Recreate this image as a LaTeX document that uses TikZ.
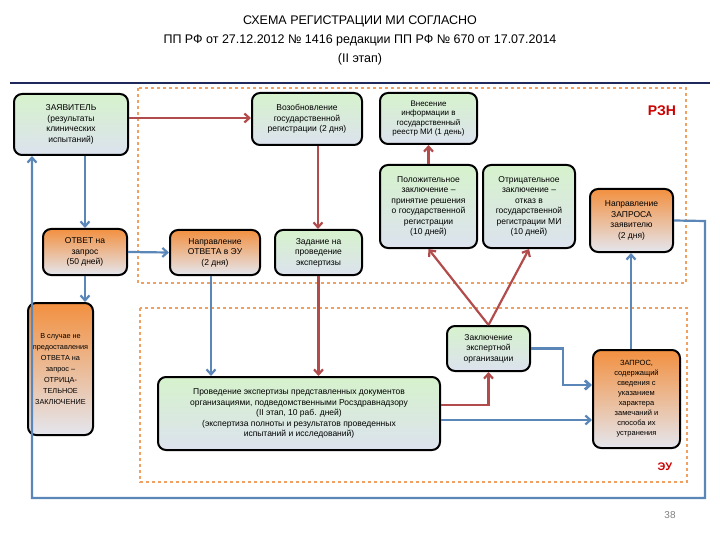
\documentclass[tikz,border=0pt]{standalone}
\usepackage{fontspec}
\setmainfont{Liberation Sans}
\usetikzlibrary{arrows.meta}
\definecolor{rc}{HTML}{B24C4C}
\definecolor{bc}{HTML}{5A86B8}
\definecolor{gtop}{HTML}{D6F2CC}
\definecolor{gbot}{HTML}{DCE2EE}
\definecolor{otop}{HTML}{F29040}
\definecolor{obot}{HTML}{E4E6EE}
\definecolor{dash}{HTML}{F0A060}
\begin{document}
\begin{tikzpicture}[x=1pt,y=-1pt,
 box/.style={draw=black,line width=2pt,rounded corners=8pt,align=center,font=\fontsize{8.5}{10.5}\selectfont,inner sep=1pt},
 gbox/.style={box,top color=gtop,bottom color=gbot},
 obox/.style={box,top color=otop,bottom color=obot},
 red/.style={draw=rc,line width=2.2pt,-{Straight Barb[length=5pt,width=9pt]}},
 blue/.style={draw=bc,line width=2.2pt,-{Straight Barb[length=5pt,width=9pt]}},
 frame/.style={draw=dash,line width=1.6pt,dashed}]
\useasboundingbox (0,0) rectangle (720,540);
\node[font=\fontsize{12.5}{19}\selectfont,align=center] (title) at (360,40) {СХЕМА РЕГИСТРАЦИИ МИ СОГЛАСНО\\ПП РФ от 27.12.2012 № 1416 редакции ПП РФ № 670 от 17.07.2014\\(II этап)};
\draw[draw={rgb,255:red,30;green,40;blue,90},line width=2.5pt] (10,83) -- (710,83);
\draw[frame] (138,88) rectangle (686,283);
\draw[frame] (140,308) rectangle (687,482);
\node[text=red!80!black,font=\bfseries\fontsize{14}{16}\selectfont] (rzn) at (662,111) {РЗН};
\node[text=red!80!black,font=\bfseries\fontsize{11}{12}\selectfont] (eu) at (665,467) {ЭУ};
\node[text=gray,font=\fontsize{10}{11}\selectfont] (pg) at (670,515) {38};
\node[gbox,minimum width=114pt,minimum height=61pt] (zay) at (71,124.5) {ЗАЯВИТЕЛЬ\\(результаты\\клинических\\испытаний)};
\node[gbox,minimum width=110pt,minimum height=52pt] (voz) at (307,119) {Возобновление\\государственной\\регистрации (2 дня)};
\node[gbox,minimum width=97pt,minimum height=51pt,font=\fontsize{8}{9.5}\selectfont] (vnes) at (428.5,118.5) {Внесение\\информации в\\государственный\\реестр МИ (1 день)};
\node[gbox,minimum width=97pt,minimum height=83pt] (pol) at (428.5,206.5) {Положительное\\заключение –\\принятие решения\\о государственной\\регистрации\\(10 дней)};
\node[gbox,minimum width=92pt,minimum height=83pt] (otr) at (529,206.5) {Отрицательное\\заключение –\\отказ в\\государственной\\регистрации МИ\\(10 дней)};
\node[obox,minimum width=83pt,minimum height=63pt] (nzap) at (631.5,220.5) {Направление\\ЗАПРОСА\\заявителю\\(2 дня)};
\node[obox,minimum width=84pt,minimum height=46pt] (otv) at (85,252) {ОТВЕТ на\\запрос\\(50 дней)};
\node[obox,minimum width=90pt,minimum height=45pt] (notv) at (215,252.5) {Направление\\ОТВЕТА в ЭУ\\(2 дня)};
\node[gbox,minimum width=87pt,minimum height=45pt] (zad) at (318.5,252.5) {Задание на\\проведение\\экспертизы};
\node[obox,minimum width=65pt,minimum height=132pt,font=\fontsize{7.3}{11}\selectfont] (vsl) at (60.5,369) {В случае не\\предоставления\\ОТВЕТА на\\запрос –\\ОТРИЦА-\\ТЕЛЬНОЕ\\ЗАКЛЮЧЕНИЕ};
\node[gbox,minimum width=83pt,minimum height=45pt] (zakl) at (488.5,348.5) {Заключение\\экспертной\\организации};
\node[gbox,minimum width=282pt,minimum height=73pt] (prov) at (299,413.5) {Проведение экспертизы представленных документов\\организациями, подведомственными Росздравнадзору\\(II этап, 10 раб. дней)\\(экспертиза полноты и результатов проведенных\\испытаний и исследований)};
\node[obox,minimum width=87pt,minimum height=98pt,font=\fontsize{7.5}{10}\selectfont] (zapr) at (636.5,399) {ЗАПРОС,\\содержащий\\сведения с\\указанием\\характера\\замечаний и\\способа их\\устранения};
\draw[red] (zay.east |- 0,118) -- (voz.west |- 0,118);
\draw[red] (voz.south -| 318,0) -- (zad.north -| 318,0);
\draw[red] (zad.south) -- (prov.north -| zad.south);
\draw[red] (pol.north) -- (vnes.south);
\draw[red] (zakl.north) -- (pol.south);
\draw[red] (zakl.north) -- (otr.south);
\draw[red] (prov.east |- 0,405) -| (zakl.south);
\draw[blue] (zay.south -| otv.north) -- (otv.north);
\draw[blue] (otv.east) -- (notv.west);
\draw[blue] (otv.south) -- (vsl.north -| otv.south);
\draw[blue] (notv.south -| 211,0) -- (prov.north -| 211,0);
\draw[blue] (prov.east |- 0,420) -- (zapr.west |- 0,420);
\draw[blue,line width=2.8pt] (zakl.east) -| (563,385) -- (zapr.west |- 0,385);
\draw[blue] (zapr.north -| 631,0) -- (nzap.south -| 631,0);
\draw[blue] (nzap.east) -- (705,221) -- (705,498) -- (32,498) -- (zay.south -| 32,0);
\end{tikzpicture}
\end{document}
